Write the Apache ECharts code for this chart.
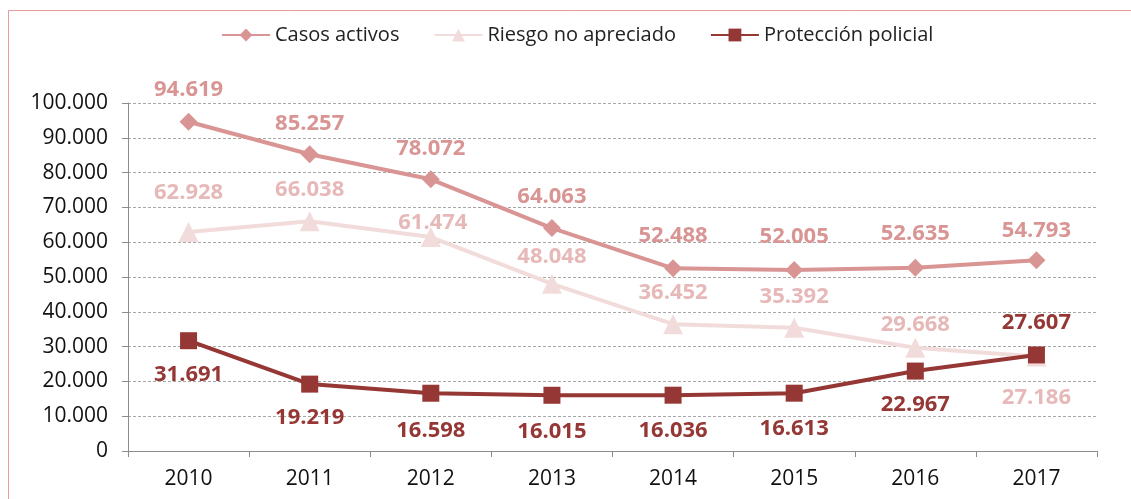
<!DOCTYPE html>
<html>
<head>
<meta charset="utf-8">
<script src="https://cdn.jsdelivr.net/npm/echarts@6/dist/echarts.min.js"></script>
<style>
  html, body { margin: 0; padding: 0; background: #fff; }
  #main { width: 1131px; height: 499px; }
</style>
</head>
<body>
<div id="main"></div>
<script>
const years = ["2010", "2011", "2012", "2013", "2014", "2015", "2016", "2017"];
const casosActivos = [94619, 85257, 78072, 64063, 52488, 52005, 52635, 54793];
const riesgoNoApreciado = [62928, 66038, 61474, 48048, 36452, 35392, 29668, 27186];
const proteccionPolicial = [31691, 19219, 16598, 16015, 16036, 16613, 22967, 27607];

// label placement (pixels from the marker), like the manual placement in the original
const casosOffsets = [-32, -31, -31, -31, -33, -33, -34, -30];
const riesgoOffsets = [[0, -39], [0, -31], [2, -14], [0, -27], [0, -31], [0, -31], [0, -23], [0, 41]];
const proteccionOffsets = [34, 34, 37, 36, 36, 36, 34, -32];

const FONT = "Open Sans";

function fmt(v) {
  return String(v).replace(/\B(?=(\d{3})+(?!\d))/g, ".");
}

function items(values, offsets) {
  return values.map((v, i) => {
    const off = Array.isArray(offsets[i]) ? offsets[i] : [0, offsets[i]];
    return { value: v, label: { offset: off } };
  });
}

const chart = echarts.init(document.getElementById("main"));

chart.setOption({
  animation: false,
  textStyle: { fontFamily: FONT },
  graphic: [{
    type: "rect",
    shape: { x: 8.5, y: 10.5, width: 1300, height: 700 },
    style: { fill: "none", stroke: "#e79b9b", lineWidth: 1 },
    silent: true
  }],
  legend: {
    top: 20,
    left: 216,
    itemWidth: 48,
    itemHeight: 16,
    itemGap: 34,
    textStyle: { fontFamily: FONT, fontSize: 20, color: "#222" },
    data: ["Casos activos", "Riesgo no apreciado", "Protección policial"]
  },
  grid: { left: 128, right: 34, top: 103, bottom: 48 },
  xAxis: {
    type: "category",
    data: years,
    boundaryGap: true,
    axisLine: { lineStyle: { color: "#8c8c8c", width: 1 } },
    axisTick: { show: true, length: 6, lineStyle: { color: "#8c8c8c" } },
    axisLabel: { fontFamily: FONT, fontSize: 21, color: "#111", margin: 18 }
  },
  yAxis: {
    type: "value",
    min: 0,
    max: 100000,
    interval: 10000,
    axisLine: { show: true, lineStyle: { color: "#8c8c8c", width: 1 } },
    axisTick: { show: true, length: 6, lineStyle: { color: "#8c8c8c" } },
    axisLabel: { fontFamily: FONT, fontSize: 21, color: "#111", margin: 20, formatter: fmt },
    splitLine: { lineStyle: { color: "#a6a6a6", type: [3, 2], width: 1 } }
  },
  series: [
    {
      name: "Casos activos",
      type: "line",
      data: items(casosActivos, casosOffsets),
      symbol: "diamond",
      symbolSize: 18,
      lineStyle: { width: 4, color: "#d99594" },
      itemStyle: { color: "#d99594" },
      label: {
        show: true, position: "inside", formatter: p => fmt(p.value),
        fontFamily: FONT, fontWeight: "bold", fontSize: 22, color: "#d99594"
      },
      z: 3
    },
    {
      name: "Riesgo no apreciado",
      type: "line",
      data: items(riesgoNoApreciado, riesgoOffsets),
      symbol: "triangle",
      symbolSize: 20,
      lineStyle: { width: 4, color: "#f2dcdb" },
      itemStyle: { color: "#f2dcdb" },
      label: {
        show: true, position: "inside", formatter: p => fmt(p.value),
        fontFamily: FONT, fontWeight: "bold", fontSize: 22, color: "#e6b9b8"
      },
      z: 2
    },
    {
      name: "Protección policial",
      type: "line",
      data: items(proteccionPolicial, proteccionOffsets),
      symbol: "rect",
      symbolSize: 17,
      lineStyle: { width: 4, color: "#953735" },
      itemStyle: { color: "#953735" },
      label: {
        show: true, position: "inside", formatter: p => fmt(p.value),
        fontFamily: FONT, fontWeight: "bold", fontSize: 22, color: "#953735"
      },
      z: 4
    }
  ]
});
</script>
</body>
</html>
